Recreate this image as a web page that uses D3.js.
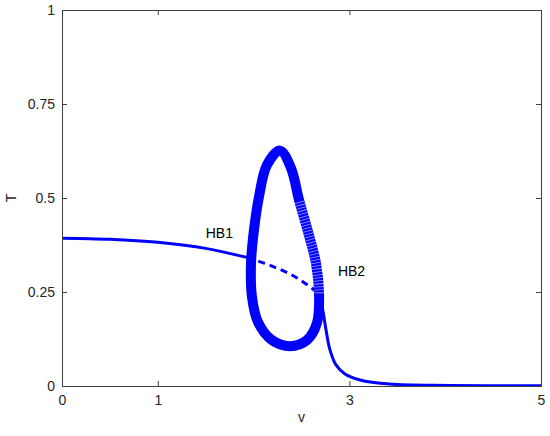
<!DOCTYPE html>
<html>
<head>
<meta charset="utf-8">
<script src="https://cdn.jsdelivr.net/npm/d3@7"></script>
<style>
  body { margin: 0; background: #fff; }
  svg { display: block; font-family: "Liberation Sans", Arial, sans-serif; }
</style>
</head>
<body>
<div id="chart"></div>
<script>
// stable branch before HB1
const stableLeftV = [0, 0.5, 1, 1.5, 1.93];
const stableLeftT = [0.393, 0.39, 0.382, 0.366, 0.342];
// unstable branch between HB1 and HB2 (dashed)
const unstableV = [1.93, 2.2, 2.45, 2.65];
const unstableT = [0.342, 0.318, 0.288, 0.252];
// stable branch after HB2
const stableRightV = [2.65, 2.71, 2.756, 2.797, 2.86, 2.954, 3.11, 3.42, 4.05, 5];
const stableRightT = [0.252, 0.215, 0.149, 0.096, 0.056, 0.032, 0.016, 0.005, 0.0013, 0.0005];
// periodic orbit envelope (closed loop, starting at the top, going clockwise)
const loopV = [2.276, 2.39, 2.474, 2.568, 2.651, 2.683, 2.662, 2.557, 2.38, 2.192, 2.046, 1.983, 1.973, 2.004, 2.056, 2.14];
const loopT = [0.626, 0.58, 0.495, 0.41, 0.327, 0.247, 0.168, 0.122, 0.106, 0.122, 0.17, 0.237, 0.327, 0.415, 0.503, 0.588];
const hatchEnd = 5; // hatched part of the loop: index 0..hatchEnd

const xTicks = [0, 1, 3, 5];
const xTickLabels = ['0', '1', '3', '5'];
const yTicks = [0, 0.25, 0.5, 0.75, 1];
const yTickLabels = ['0', '0.25', '0.5', '0.75', '1'];

const labels = [
    { text: 'HB1', v: 1.5, T: 0.393 },
    { text: 'HB2', v: 2.88, T: 0.293 }
];

function zip(vs, ts) {
    return vs.map((v, i) => ({ v: v, T: ts[i] }));
}

function renderChart() {
    const width = 550, height = 436;
    const margin = { top: 10, right: 9, bottom: 50, left: 62 };
    const w = width - margin.left - margin.right;
    const h = height - margin.top - margin.bottom;

    const svg = d3.select('#chart')
        .append('svg')
        .attr('width', width)
        .attr('height', height);

    const g = svg.append('g')
        .attr('transform', `translate(${margin.left},${margin.top})`);

    const x = d3.scaleLinear().domain([0, 5]).range([0, w]);
    const y = d3.scaleLinear().domain([0, 1]).range([h, 0]);

    g.append('clipPath')
        .attr('id', 'clip')
        .append('rect')
        .attr('width', w)
        .attr('height', h);

    const plot = g.append('g').attr('clip-path', 'url(#clip)');

    const line = d3.line()
        .x(d => x(d.v))
        .y(d => y(d.T))
        .curve(d3.curveMonotoneX);

    plot.append('path')
        .datum(zip(stableLeftV, stableLeftT))
        .attr('d', line)
        .attr('fill', 'none')
        .attr('stroke', '#0000ff')
        .attr('stroke-width', 3);

    plot.append('path')
        .datum(zip(unstableV, unstableT))
        .attr('d', line)
        .attr('fill', 'none')
        .attr('stroke', '#0000ff')
        .attr('stroke-width', 3)
        .attr('stroke-dasharray', '7 5');

    plot.append('path')
        .datum(zip(stableRightV, stableRightT))
        .attr('d', d3.line().x(d => x(d.v)).y(d => y(d.T)).curve(d3.curveCatmullRom))
        .attr('fill', 'none')
        .attr('stroke', '#0000ff')
        .attr('stroke-width', 3);

    // periodic orbit envelope
    const loopData = zip(loopV, loopT);
    const loopLine = d3.line()
        .x(d => x(d.v))
        .y(d => y(d.T))
        .curve(d3.curveCatmullRomClosed);

    const loopPath = plot.append('path')
        .datum(loopData)
        .attr('d', loopLine)
        .attr('fill', 'none')
        .attr('stroke', '#0000ff')
        .attr('stroke-width', 10);

    // hatched look on the right side of the loop
    const node = loopPath.node();
    const total = node.getTotalLength();
    const target = loopData[hatchEnd];
    let best = 0, bestDist = Infinity;
    for (let s = 0; s <= total; s += 0.5) {
        const p = node.getPointAtLength(s);
        const dd = (p.x - x(target.v)) ** 2 + (p.y - y(target.T)) ** 2;
        if (dd < bestDist) { bestDist = dd; best = s; }
    }
    const startLen = 35;
    const dashes = [0, startLen];
    for (let s = startLen; s < best; s += 3) dashes.push(0.8, 2.2);
    dashes.push(0, total);
    plot.append('path')
        .datum(loopData)
        .attr('d', loopLine)
        .attr('fill', 'none')
        .attr('stroke', '#ffffff')
        .attr('stroke-opacity', 0.6)
        .attr('stroke-width', 10)
        .attr('stroke-dasharray', dashes.join(' '));

    // labels
    g.selectAll('.hb')
        .data(labels)
        .enter()
        .append('text')
        .attr('x', d => x(d.v))
        .attr('y', d => y(d.T))
        .attr('font-size', '14px')
        .attr('fill', '#000')
        .text(d => d.text);

    // axes
    const axisColor = '#404040';
    const xAxis = g.append('g')
        .attr('transform', `translate(0,${h})`)
        .call(d3.axisBottom(x).tickValues(xTicks).tickSize(-5).tickPadding(9)
            .tickFormat((d, i) => xTickLabels[i]));
    const yAxis = g.append('g')
        .call(d3.axisLeft(y).tickValues(yTicks).tickSize(-5).tickPadding(7)
            .tickFormat((d, i) => yTickLabels[i]));
    const xTop = g.append('g')
        .call(d3.axisTop(x).tickValues(xTicks).tickSize(-5).tickFormat(''));
    const yRight = g.append('g')
        .attr('transform', `translate(${w},0)`)
        .call(d3.axisRight(y).tickValues(yTicks).tickSize(-5).tickFormat(''));

    [xAxis, yAxis, xTop, yRight].forEach(a => {
        a.select('.domain').attr('stroke', axisColor);
        a.selectAll('.tick line').attr('stroke', axisColor);
        a.selectAll('text')
            .attr('fill', '#262626')
            .style('font-size', '14px')
            .style('font-family', '"Liberation Sans", Arial, sans-serif');
    });

    g.append('text')
        .attr('x', w / 2)
        .attr('y', h + 36)
        .attr('text-anchor', 'middle')
        .attr('font-size', '14px')
        .attr('fill', '#262626')
        .text('v');

    g.append('text')
        .attr('transform', `translate(${-margin.left + 16},${h / 2}) rotate(-90)`)
        .attr('text-anchor', 'middle')
        .attr('font-size', '14px')
        .attr('fill', '#262626')
        .text('T');
}

renderChart();
</script>
</body>
</html>
